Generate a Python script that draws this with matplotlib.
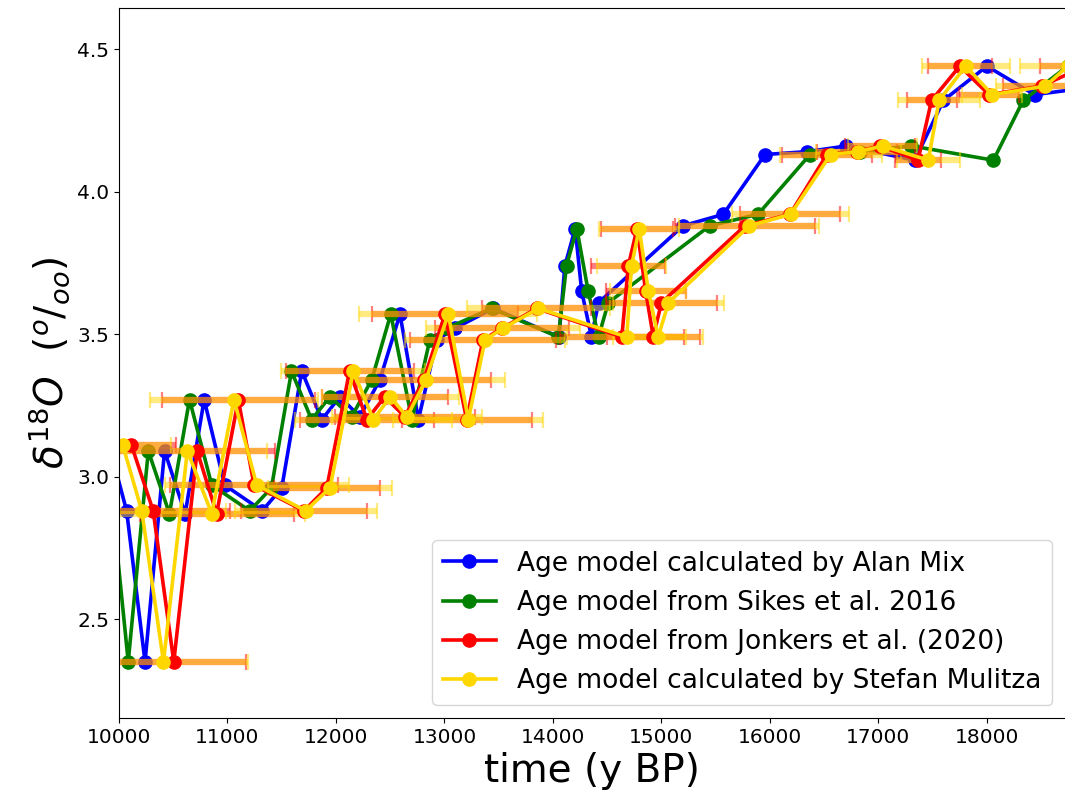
import numpy as np
import matplotlib
matplotlib.use('Agg')
import matplotlib.pyplot as plt

# d18O of the samples, in depth order (same samples for every age model)
d18o = [3.11, 2.88, 2.35, 3.09, 2.87, 3.27, 2.97, 2.88, 2.96, 3.37,
        3.20, 3.28, 3.21, 3.34, 3.57, 3.20, 3.48, 3.52, 3.59, 3.49,
        3.74, 3.87, 3.65, 3.49, 3.61, 3.88, 3.92, 4.13, 4.14, 4.16,
        4.11, 4.32, 4.44, 4.34, 4.37, 4.44]

# ages (y BP) of each sample for the four age models
age_mix = [9910, 10070, 10240, 10420, 10610, 10785, 10975, 11320, 11500, 11685,
           11870, 12035, 12220, 12405, 12590, 12760, 12930, 13095, 13450, 14055,
           14110, 14205, 14265, 14355, 14420, 15200, 15570, 15955, 16340, 16705,
           17335, 17600, 18000, 18440, 19040]
age_sikes = [9780, 9945, 10085, 10270, 10465, 10650, 10855, 11205, 11405, 11590,
             11775, 11945, 12145, 12330, 12505, 12700, 12865, 13020, 13435, 14050,
             14125, 14220, 14325, 14420, 14510, 15445, 15890, 16370, 16830, 17305,
             18060, 18335, 18745]
age_jonkers = [10115, 10315, 10505, 10720, 10900, 11100, 11245, 11705, 11915, 12125,
               12285, 12450, 12635, 12810, 13005, 13205, 13355, 13530, 13850, 14635,
               14695, 14775, 14855, 14925, 15000, 15770, 16185, 16525, 16800, 17015,
               17365, 17490, 17750, 18020, 18505, 18905]
age_mulitza = [10035, 10210, 10410, 10630, 10855, 11060, 11270, 11720, 11945, 12160,
               12345, 12500, 12655, 12830, 13035, 13220, 13375, 13540, 13865, 14680,
               14725, 14795, 14880, 14970, 15065, 15810, 16190, 16560, 16815, 17040,
               17460, 17560, 17805, 18050, 18540, 18745]

# age uncertainties (y)
err_jonkers = [415, 710, 665, 720, 710, 705, 775, 580, 490, 590,
               620, 580, 645, 620, 670, 600, 670, 620, 500, 570,
               340, 330, 370, 430, 510, 645, 460, 415, 370, 320,
               210, 230, 295, 275, 360, 415]
err_mulitza = [440, 780, 775, 735, 860, 775, 850, 655, 570, 665,
               720, 630, 690, 730, 820, 690, 740, 710, 660, 550,
               320, 370, 350, 415, 510, 645, 535, 470, 390, 320,
               290, 380, 405, 275, 460, 440]

fig = plt.figure(figsize=(10.65, 8.07), dpi=100)
ax = fig.add_axes([119/1065, 1 - 718/807, 1 - 119/1065, 710/807])

ax.plot(age_mix, d18o[:len(age_mix)], '-o', color='blue', lw=2.6, ms=9.5,
        label='Age model calculated by Alan Mix')
ax.plot(age_sikes, d18o[:len(age_sikes)], '-o', color='green', lw=2.6, ms=9.5,
        label='Age model from Sikes et al. 2016')

ax.errorbar(age_jonkers, d18o, xerr=err_jonkers, fmt='none',
            ecolor=(1, 0, 0, 0.5), elinewidth=4.5, capsize=5.5, capthick=1.6)
ax.errorbar(age_mulitza, d18o, xerr=err_mulitza, fmt='none',
            ecolor=(1, 0.843, 0, 0.5), elinewidth=4.5, capsize=5.5, capthick=1.6)

ax.plot(age_jonkers, d18o, '-o', color='red', lw=2.6, ms=9.5,
        label='Age model from Jonkers et al. (2020)')
ax.plot(age_mulitza, d18o, '-o', color='gold', lw=2.6, ms=9.5,
        label='Age model calculated by Stefan Mulitza')

ax.set_xlim(10000, 18720)
ax.set_ylim(2.153, 4.644)
ax.set_xticks(np.arange(10000, 18001, 1000))
ax.set_yticks([2.5, 3.0, 3.5, 4.0, 4.5])
ax.tick_params(labelsize=14.5)
ax.spines['right'].set_visible(False)

ax.set_xlabel('time (y BP)', fontsize=28)
ax.set_ylabel(r'$\delta^{18}O$  ($^o/_{oo}$)', fontsize=28)

ax.legend(loc='lower right', fontsize=19)

fig.savefig('out.png', dpi=100)
